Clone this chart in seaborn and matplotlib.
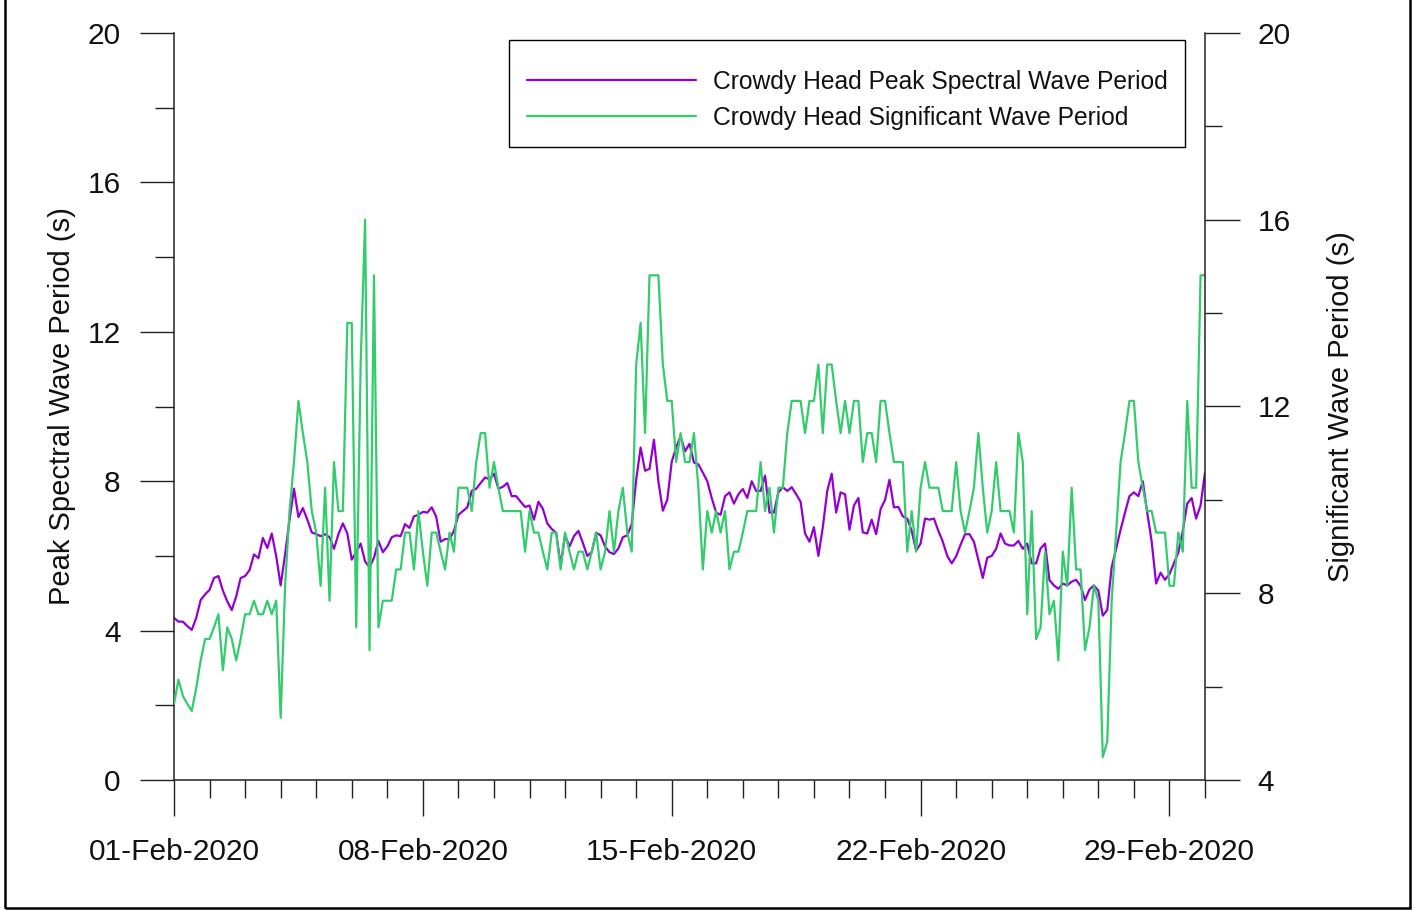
import numpy as np
import pandas as pd
import matplotlib
matplotlib.use("Agg")
import matplotlib.pyplot as plt
import matplotlib.dates as mdates
from matplotlib.ticker import MultipleLocator, FixedLocator
from matplotlib.patches import Rectangle
from matplotlib.lines import Line2D
import seaborn as sns

# Crowdy Head wave record, February 2020, 3-hourly samples
start_time = "2020-02-01 00:00"
sample_step = "3h"

# Peak spectral wave period (s), left axis
peak_period = [
    4.34, 4.24, 4.24, 4.12, 4.02, 4.34, 4.82, 4.97,
    5.09, 5.41, 5.46, 5.07, 4.78, 4.55, 4.92, 5.41,
    5.46, 5.62, 6.04, 5.94, 6.48, 6.21, 6.60, 5.99,
    5.21, 6.04, 6.97, 7.80, 7.04, 7.28, 6.97, 6.63,
    6.58, 6.53, 6.58, 6.50, 6.19, 6.58, 6.87, 6.60,
    5.90, 6.10, 6.33, 5.85, 5.70, 5.95, 6.40, 6.10,
    6.25, 6.50, 6.55, 6.53, 6.85, 6.75, 7.06, 7.10,
    7.18, 7.16, 7.30, 7.05, 6.38, 6.45, 6.45, 6.67,
    7.10, 7.20, 7.30, 7.74, 7.80, 7.95, 8.10, 8.05,
    8.20, 7.80, 7.85, 7.95, 7.60, 7.60, 7.45, 7.31,
    7.35, 6.97, 7.45, 7.26, 6.87, 6.72, 6.62, 5.75,
    6.55, 6.25, 6.53, 6.67, 6.35, 6.00, 6.10, 6.62,
    6.55, 6.25, 6.10, 6.05, 6.20, 6.50, 6.55, 6.85,
    8.04, 8.90, 8.28, 8.33, 9.11, 7.99, 7.21, 7.50,
    8.52, 8.91, 9.20, 8.80, 9.00, 8.50, 8.45, 8.23,
    8.00, 7.55, 7.16, 7.10, 7.60, 7.70, 7.40, 7.65,
    7.79, 7.55, 8.00, 7.74, 7.74, 8.15, 7.16, 7.16,
    7.70, 7.84, 7.74, 7.84, 7.65, 7.45, 6.60, 6.38,
    6.77, 6.00, 6.77, 7.74, 8.20, 7.16, 7.70, 7.65,
    6.70, 7.35, 7.55, 6.63, 6.60, 6.97, 6.58, 7.25,
    7.50, 8.04, 7.30, 7.31, 7.06, 7.00, 6.67, 6.14,
    6.33, 7.00, 6.97, 7.00, 6.67, 6.38, 6.00, 5.80,
    5.99, 6.30, 6.58, 6.58, 6.38, 5.90, 5.41, 5.95,
    6.00, 6.19, 6.60, 6.33, 6.28, 6.28, 6.40, 6.19,
    6.33, 5.80, 5.80, 6.20, 6.33, 5.35, 5.21, 5.12,
    5.26, 5.21, 5.31, 5.36, 5.20, 4.82, 5.10, 5.21,
    5.07, 4.40, 4.55, 5.70, 6.19, 6.70, 7.16, 7.60,
    7.70, 7.60, 8.00, 7.16, 6.38, 5.26, 5.55, 5.36,
    5.51, 5.80, 6.09, 6.67, 7.40, 7.55, 7.00, 7.35,
    8.23,
]

# Significant wave period (s), right axis
sig_period = [
    5.63, 6.15, 5.80, 5.63, 5.48, 5.97, 6.56, 7.02,
    7.02, 7.27, 7.55, 6.35, 7.27, 7.02, 6.56, 7.02,
    7.55, 7.55, 7.84, 7.55, 7.55, 7.84, 7.55, 7.84,
    5.33, 8.16, 9.76, 10.81, 12.12, 11.43, 10.81, 9.76,
    9.30, 8.16, 10.26, 7.84, 10.81, 9.76, 9.76, 13.79,
    13.79, 7.27, 12.90, 16.00, 6.78, 14.81, 7.27, 7.84,
    7.84, 7.84, 8.51, 8.51, 9.30, 9.30, 8.51, 9.76,
    8.89, 8.16, 9.30, 9.30, 8.89, 8.51, 9.30, 8.89,
    10.26, 10.26, 10.26, 9.76, 10.81, 11.43, 11.43, 10.26,
    10.81, 10.26, 9.76, 9.76, 9.76, 9.76, 9.76, 8.89,
    9.76, 9.30, 9.30, 8.89, 8.51, 9.30, 9.30, 8.51,
    9.30, 8.89, 8.51, 8.89, 8.89, 8.51, 8.89, 9.30,
    8.51, 8.89, 9.76, 8.89, 9.76, 10.26, 9.30, 8.89,
    12.90, 13.79, 11.43, 14.81, 14.81, 14.81, 12.90, 12.12,
    12.12, 10.81, 11.43, 10.81, 10.81, 11.43, 10.26, 8.51,
    9.76, 9.30, 9.76, 9.30, 9.76, 8.51, 8.89, 8.89,
    9.30, 9.76, 9.76, 9.76, 10.81, 9.76, 10.26, 9.30,
    10.26, 10.26, 11.43, 12.12, 12.12, 12.12, 11.43, 12.12,
    12.12, 12.90, 11.43, 12.90, 12.90, 12.12, 11.43, 12.12,
    11.43, 12.12, 12.12, 10.81, 11.43, 11.43, 10.81, 12.12,
    12.12, 11.43, 10.81, 10.81, 10.81, 8.89, 9.76, 8.89,
    10.26, 10.81, 10.26, 10.26, 10.26, 9.76, 9.76, 9.76,
    10.81, 9.76, 9.30, 9.76, 10.26, 11.43, 10.26, 9.30,
    9.76, 10.81, 9.76, 9.76, 9.76, 9.30, 11.43, 10.81,
    7.55, 9.76, 7.02, 7.27, 8.89, 7.55, 7.84, 6.56,
    8.89, 8.16, 10.26, 8.51, 8.51, 6.78, 7.27, 8.16,
    7.84, 4.49, 4.82, 7.84, 9.30, 10.81, 11.43, 12.12,
    12.12, 10.81, 10.26, 9.76, 9.76, 9.30, 9.30, 9.30,
    8.16, 8.16, 9.30, 8.89, 12.12, 10.26, 10.26, 14.81,
    14.81,
]

major_dates = ["2020-02-01", "2020-02-08", "2020-02-15", "2020-02-22", "2020-02-29"]
peak_label = "Crowdy Head Peak Spectral Wave Period"
sig_label = "Crowdy Head Significant Wave Period"
left_title = "Peak Spectral Wave Period (s)"
right_title = "Significant Wave Period (s)"

PURPLE = "#9400d3"
GREEN = "#33cc6c"
LW = 1.6
INK = "#111111"

times = pd.date_range(start_time, periods=len(peak_period), freq=sample_step)
df = pd.DataFrame({"time": times, "peak": peak_period, "sig": sig_period})

sns.set_theme(style="ticks")
plt.rcParams["font.family"] = ["Liberation Sans", "DejaVu Sans"]
plt.rcParams.update({"text.color": INK, "axes.labelcolor": INK,
                     "xtick.color": INK, "ytick.color": INK})

W, H = 1415, 911
fig = plt.figure(figsize=(W / 100, H / 100), dpi=100)
L, R, T, B = 174, 1205, 33, 780
ax = fig.add_axes([L / W, 1 - B / H, (R - L) / W, (B - T) / H])
ax2 = ax.twinx()

sns.lineplot(data=df, x="time", y="peak", ax=ax, color=PURPLE, linewidth=LW,
             legend=False, estimator=None)
sns.lineplot(data=df, x="time", y="sig", ax=ax2, color=GREEN, linewidth=LW,
             legend=False, estimator=None)

ax.set_xlim(pd.Timestamp("2020-02-01"), pd.Timestamp("2020-03-01"))
ax.set_ylim(0, 20)
ax2.set_ylim(4, 20)

# axis frame: left, right and bottom only
for a in (ax, ax2):
    a.spines["top"].set_visible(False)
    for s in a.spines.values():
        s.set_linewidth(1.1)
        s.set_color("#222222")
ax.spines["right"].set_visible(False)
ax2.spines["left"].set_visible(False)
ax2.spines["bottom"].set_visible(False)

# date ticks
ax.xaxis.set_major_locator(FixedLocator(mdates.date2num(pd.to_datetime(major_dates))))
ax.xaxis.set_minor_locator(mdates.DayLocator())
ax.xaxis.set_major_formatter(mdates.DateFormatter("%d-%b-%Y"))
ax.tick_params(axis="x", which="major", length=26, width=1.0, pad=16,
               labelsize=21.5, color="#222222", direction="out")
ax.tick_params(axis="x", which="minor", length=13, width=1.0,
               color="#222222", direction="out")

ax.yaxis.set_major_locator(MultipleLocator(4))
ax.yaxis.set_minor_locator(MultipleLocator(2))
ax.tick_params(axis="y", which="major", length=24.5, width=1.0, pad=14,
               labelsize=21.5, color="#222222", direction="out")
ax.tick_params(axis="y", which="minor", length=13.5, width=1.0,
               color="#222222", direction="out")

ax2.yaxis.set_major_locator(MultipleLocator(4))
ax2.yaxis.set_minor_locator(MultipleLocator(2))
ax2.tick_params(axis="y", which="major", length=25, width=1.0, pad=13,
                labelsize=21.5, color="#222222", direction="out")
ax2.tick_params(axis="y", which="minor", length=12.5, width=1.0,
                color="#222222", direction="out")

ax.set_xlabel("")
ax.set_ylabel(left_title, fontsize=21, labelpad=8)
ax2.set_ylabel(right_title, fontsize=21, labelpad=26, rotation=90)


def to_fig(x, y):
    """Pixel position (origin top-left) to figure fraction."""
    return (x / W, 1 - y / H)


handles = [Line2D([], [], color=PURPLE, linewidth=LW),
           Line2D([], [], color=GREEN, linewidth=LW)]
leg = fig.legend(handles, [peak_label, sig_label], loc="upper left",
                 bbox_to_anchor=to_fig(527, 70), borderaxespad=0, borderpad=0,
                 fontsize=17.7, frameon=False, handlelength=6.87,
                 handletextpad=0.69, labelspacing=0.48)

# legend box
x0, y0 = to_fig(509, 147)
x1, y1 = to_fig(1185, 40)
fig.add_artist(Rectangle((x0, y0), x1 - x0, y1 - y0, transform=fig.transFigure,
                         fill=False, edgecolor="black", linewidth=1.0))

# outer border of the figure
fig.add_artist(Rectangle((5 / W, 3 / H), (1410 - 5) / W, 1.2, transform=fig.transFigure,
                         fill=False, edgecolor="black", linewidth=1.8))

fig.savefig("out.png", dpi=100)
